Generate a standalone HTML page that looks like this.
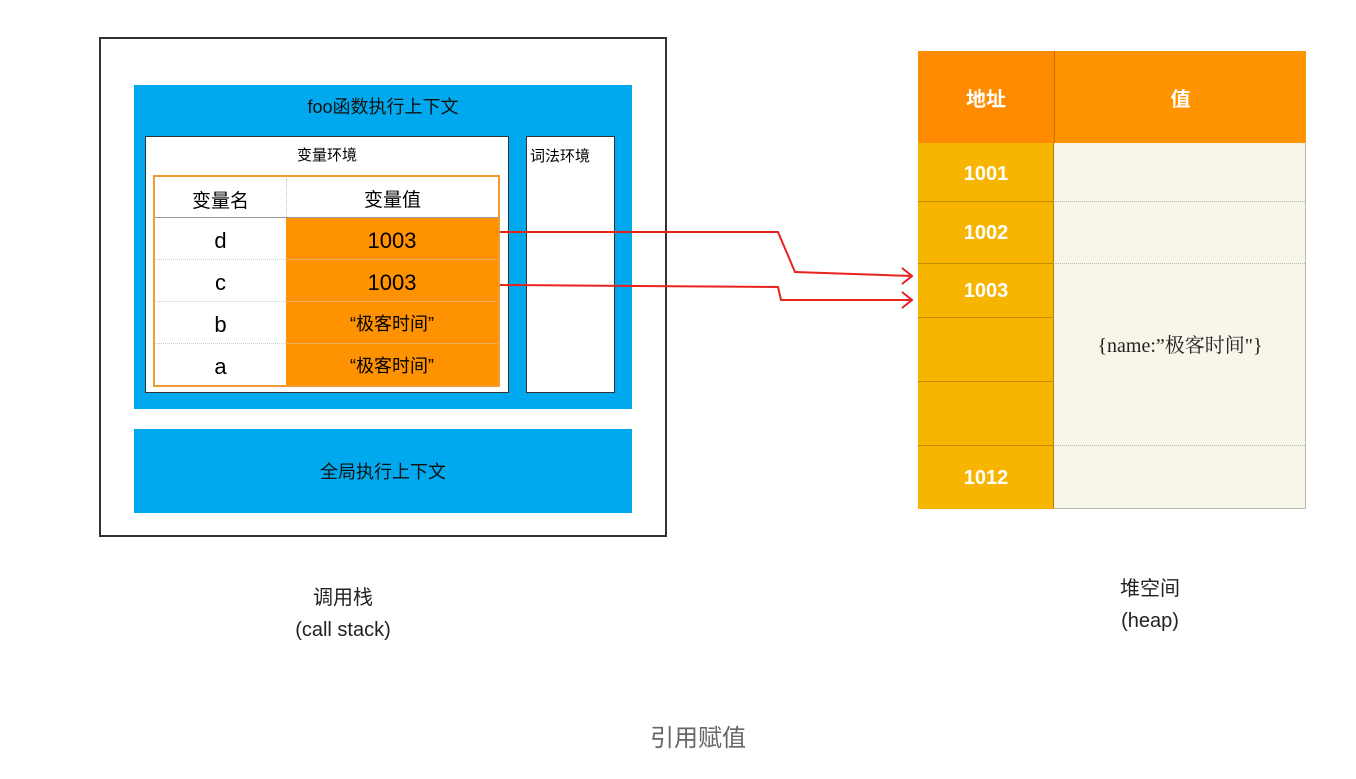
<!DOCTYPE html>
<html><head><meta charset="utf-8"><style>
body{margin:0;width:1356px;height:779px;background:#fff;position:relative;overflow:hidden;font-family:"Liberation Sans","Noto Sans CJK SC",sans-serif;}
.a{position:absolute;box-sizing:border-box;}
.c{display:flex;align-items:center;justify-content:center;}
</style></head><body>
<div class="a" style="left:99px;top:37px;width:568px;height:500px;border:2px solid #333;"></div>
<div class="a c" style="left:134px;top:85px;width:498px;height:324px;background:#00a9ee;align-items:flex-start;padding-top:8px;font-size:18px;color:#111;">foo函数执行上下文</div>
<div class="a" style="left:145px;top:136px;width:364px;height:257px;background:#fff;border:1px solid #333;"></div>
<div class="a c" style="left:145px;top:143px;width:364px;height:22px;font-size:15px;">变量环境</div>
<div class="a" style="left:526px;top:136px;width:89px;height:257px;background:#fff;border:1px solid #333;font-size:15px;padding-top:8px;padding-left:3px;">词法环境</div>
<div class="a" style="left:153px;top:175px;width:347px;height:212px;border:2px solid #f39a33;background:#fff;"></div>
<div class="a" style="left:286px;top:217px;width:212px;height:168px;background:#ff9200;"></div>
<div class="a c" style="left:155px;top:179px;width:131px;height:40px;font-size:19px;">变量名</div>
<div class="a c" style="left:286px;top:179px;width:212px;height:38px;font-size:19px;border-left:1px dotted #bbb;">变量值</div>
<div class="a" style="left:155px;top:217px;width:343px;height:1px;background:#999;"></div>
<div class="a" style="left:155px;top:259px;width:343px;border-top:1px dotted #ccc;"></div>
<div class="a" style="left:155px;top:301px;width:343px;border-top:1px dotted #ccc;"></div>
<div class="a" style="left:155px;top:343px;width:343px;border-top:1px dotted #ccc;"></div>
<div class="a c" style="left:155px;top:220px;width:131px;height:42px;font-size:22px;">d</div>
<div class="a c" style="left:155px;top:262px;width:131px;height:42px;font-size:22px;">c</div>
<div class="a c" style="left:155px;top:304px;width:131px;height:42px;font-size:22px;">b</div>
<div class="a c" style="left:155px;top:346px;width:131px;height:42px;font-size:22px;">a</div>
<div class="a c" style="left:286px;top:220px;width:212px;height:42px;font-size:22px;">1003</div>
<div class="a c" style="left:286px;top:262px;width:212px;height:42px;font-size:22px;">1003</div>
<div class="a c" style="left:286px;top:302px;width:212px;height:42px;font-size:18px;">“极客时间”</div>
<div class="a c" style="left:286px;top:344px;width:212px;height:42px;font-size:18px;">“极客时间”</div>
<div class="a c" style="left:134px;top:429px;width:498px;height:84px;background:#00a9ee;font-size:18px;color:#111;">全局执行上下文</div>
<div class="a c" style="left:208px;top:581px;width:270px;height:28px;font-size:20px;color:#222;">调用栈</div>
<div class="a c" style="left:208px;top:616px;width:270px;height:28px;font-size:20px;color:#222;">(call stack)</div>

<div class="a" style="left:918px;top:51px;width:388px;height:458px;background:#f8f5e9;border:1px solid #bbb;"></div>
<div class="a c" style="left:918px;top:51px;width:136px;height:92px;background:#ff8c00;color:#fff;font-size:20px;font-weight:bold;">地址</div>
<div class="a c" style="left:1054px;top:51px;width:252px;height:92px;background:#ff9400;color:#fff;font-size:20px;font-weight:bold;border-left:1px solid #c77000;">值</div>
<div class="a" style="left:918px;top:143px;width:136px;height:366px;background:#f7b500;border-right:1px solid #b08000;"></div>
<div class="a c" style="left:918px;top:145px;width:136px;height:58px;color:#fff;font-size:20px;font-weight:bold;">1001</div>
<div class="a c" style="left:918px;top:201px;width:136px;height:64px;color:#fff;font-size:20px;font-weight:bold;border-top:1px solid #c28c00;">1002</div>
<div class="a c" style="left:918px;top:263px;width:136px;height:56px;color:#fff;font-size:20px;font-weight:bold;border-top:1px solid #c28c00;">1003</div>
<div class="a" style="left:918px;top:317px;width:136px;border-top:1px solid #c28c00;"></div>
<div class="a" style="left:918px;top:381px;width:136px;border-top:1px solid #c28c00;"></div>
<div class="a c" style="left:918px;top:445px;width:136px;height:65px;color:#fff;font-size:20px;font-weight:bold;border-top:1px solid #c28c00;">1012</div>
<div class="a" style="left:1055px;top:201px;width:250px;border-top:1px dotted #bbb;"></div>
<div class="a" style="left:1055px;top:263px;width:250px;border-top:1px dotted #bbb;"></div>
<div class="a" style="left:1055px;top:445px;width:250px;border-top:1px dotted #bbb;"></div>
<div class="a c" style="left:1055px;top:263px;width:250px;height:160px;font-family:'Liberation Serif','Noto Serif CJK SC',serif;font-size:20px;color:#222;">{name:”极客时间"}</div>
<div class="a c" style="left:1030px;top:572px;width:240px;height:28px;font-size:20px;color:#222;">堆空间</div>
<div class="a c" style="left:1030px;top:607px;width:240px;height:28px;font-size:20px;color:#222;">(heap)</div>
<div class="a c" style="left:550px;top:718px;width:296px;height:34px;font-size:24px;color:#666;">引用赋值</div>

<svg class="a" style="left:0;top:0" width="1356" height="779">
<g fill="none" stroke="#e8231d" stroke-width="2">
<polyline points="500,232 778,232 795,272 912,276"/>
<polyline points="902,268 912,276 902,284"/>
<polyline points="500,285 778,287 781,300 912,300"/>
<polyline points="902,292 912,300 902,308"/>
</g></svg>
</body></html>
